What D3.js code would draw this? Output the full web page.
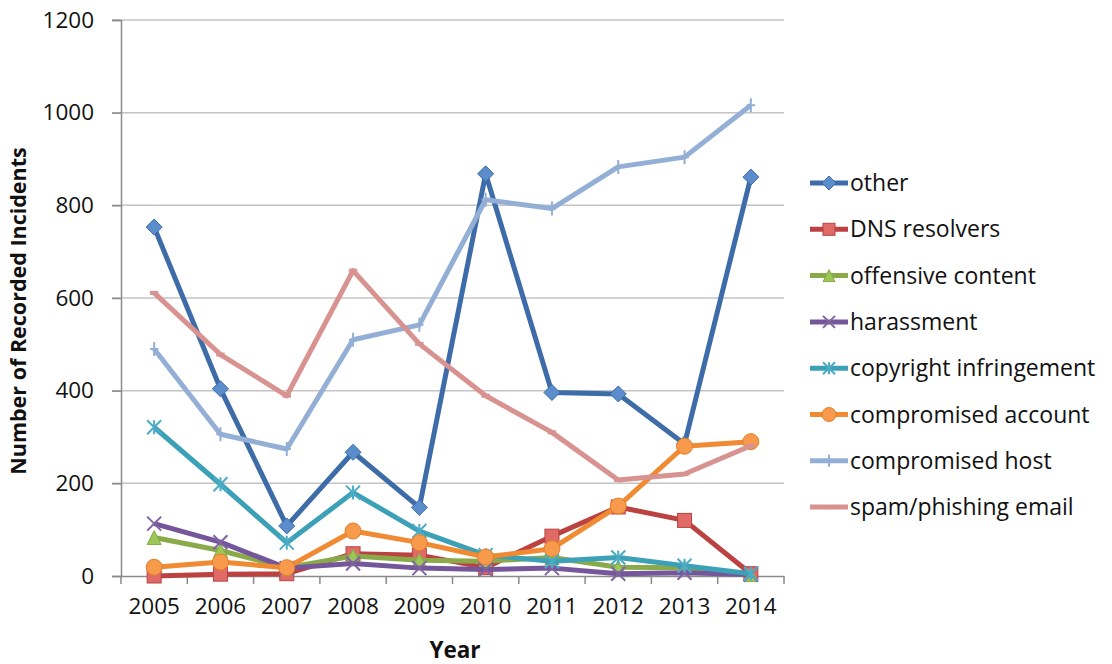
<!DOCTYPE html>
<html>
<head>
<meta charset="utf-8">
<script src="https://cdn.jsdelivr.net/npm/d3@7"></script>
<style>
  body { margin: 0; background: #fff; }
  svg text { font-family: "Open Sans", sans-serif; fill: #111; }
</style>
</head>
<body>
<svg id="chart" width="1112" height="664"></svg>
<script>
// data
const years = ["2005", "2006", "2007", "2008", "2009", "2010", "2011", "2012", "2013", "2014"];
const yTicks = [0, 200, 400, 600, 800, 1000, 1200];

const other = [753, 404, 108, 267, 148, 868, 396, 393, 285, 861];
const dnsResolvers = [0, 4, 5, 48, 45, 18, 86, 149, 120, 5];
const offensiveContent = [83, 55, 18, 43, 34, 32, 40, 19, 18, 3];
const harassment = [113, 73, 17, 27, 17, 14, 17, 5, 7, 3];
const copyrightInfringement = [321, 198, 72, 180, 97, 45, 32, 40, 22, 5];
const compromisedAccount = [19, 30, 18, 97, 72, 41, 59, 151, 280, 290];
const compromisedHost = [490, 306, 274, 510, 542, 812, 793, 883, 904, 1016];
const spamPhishing = [611, 478, 389, 659, 501, 389, 310, 207, 220, 281];

const series = [
  {name: "other", values: other, line: "#3d6ca8", fill: "#5b8ccc", marker: "diamond"},
  {name: "DNS resolvers", values: dnsResolvers, line: "#bb4240", fill: "#e06a66", marker: "square"},
  {name: "offensive content", values: offensiveContent, line: "#8aaa4a", fill: "#9cc657", marker: "triangle"},
  {name: "harassment", values: harassment, line: "#75569a", fill: "#8064a2", marker: "x"},
  {name: "copyright infringement", values: copyrightInfringement, line: "#3ca1b7", fill: "#4bacc6", marker: "star"},
  {name: "compromised account", values: compromisedAccount, line: "#f08a33", fill: "#f79a4c", marker: "circle"},
  {name: "compromised host", values: compromisedHost, line: "#93afd6", fill: "#93afd6", marker: "plus"},
  {name: "spam/phishing email", values: spamPhishing, line: "#d89290", fill: "#d89290", marker: "dash"}
];

const svg = d3.select("#chart");
const plot = {left: 121, right: 784, top: 20, bottom: 576};

const x = d3.scaleBand().domain(years).range([plot.left, plot.right]);
const y = d3.scaleLinear().domain([0, 1200]).range([plot.bottom, plot.top]);
const cx = (i) => x(years[i]) + x.bandwidth() / 2;

// gridlines
svg.append("g")
  .selectAll("line")
  .data(yTicks.filter(d => d > 0))
  .join("line")
  .attr("x1", plot.left - 9).attr("x2", plot.right)
  .attr("y1", d => y(d)).attr("y2", d => y(d))
  .attr("stroke", "#c4c4c4").attr("stroke-width", 1.5);

// y axis
const yAxis = svg.append("g")
  .attr("transform", `translate(${plot.left},0)`)
  .call(d3.axisLeft(y).tickValues(yTicks).tickFormat(d3.format("d")).tickSize(9).tickPadding(18));
yAxis.select(".domain").attr("stroke", "#8a8a8a").attr("stroke-width", 1.5);
yAxis.selectAll(".tick line").attr("stroke", "#8a8a8a").attr("stroke-width", 1.5);
yAxis.selectAll("text").attr("font-size", 22.5).attr("fill", "#111")
  .style("font-family", "'Open Sans', sans-serif");

// x axis
const xAxis = svg.append("g")
  .attr("transform", `translate(0,${plot.bottom})`)
  .call(d3.axisBottom(x).tickSize(0).tickPadding(22));
xAxis.select(".domain").attr("stroke", "#8a8a8a").attr("stroke-width", 1.5);
xAxis.selectAll("text").attr("font-size", 22.5).attr("fill", "#111")
  .style("font-family", "'Open Sans', sans-serif");
// ticks between categories
svg.append("g")
  .selectAll("line")
  .data(d3.range(years.length + 1))
  .join("line")
  .attr("x1", i => plot.left + i * x.bandwidth())
  .attr("x2", i => plot.left + i * x.bandwidth())
  .attr("y1", plot.bottom).attr("y2", plot.bottom + 8)
  .attr("stroke", "#8a8a8a").attr("stroke-width", 1.5);

// axis titles
svg.append("text")
  .attr("transform", `translate(26,${(plot.top + plot.bottom) / 2 + 13}) rotate(-90)`)
  .attr("text-anchor", "middle")
  .attr("font-size", 21.5).attr("font-weight", "bold")
  .text("Number of Recorded Incidents");
svg.append("text")
  .attr("x", 455).attr("y", 658)
  .attr("text-anchor", "middle")
  .attr("font-size", 22.5).attr("font-weight", "bold")
  .text("Year");

// marker shapes
function drawMarker(g, s, size) {
  const r = size / 2;
  switch (s.marker) {
    case "diamond":
      g.append("path").attr("d", `M0,${-r - 1}L${r + 1},0L0,${r + 1}L${-r - 1},0Z`)
        .attr("fill", s.fill).attr("stroke", s.line).attr("stroke-width", 1);
      break;
    case "square":
      g.append("rect").attr("x", -r).attr("y", -r).attr("width", size).attr("height", size)
        .attr("fill", s.fill).attr("stroke", s.line).attr("stroke-width", 1);
      break;
    case "triangle":
      g.append("path").attr("d", `M0,${-r}L${r},${r}L${-r},${r}Z`)
        .attr("fill", s.fill).attr("stroke", s.line).attr("stroke-width", 1);
      break;
    case "x":
      g.append("path").attr("d", `M${-r},${-r}L${r},${r}M${-r},${r}L${r},${-r}`)
        .attr("stroke", s.fill).attr("stroke-width", 2);
      break;
    case "star":
      g.append("path").attr("d", `M${-r},${-r}L${r},${r}M${-r},${r}L${r},${-r}M0,${-r}L0,${r}`)
        .attr("stroke", s.fill).attr("stroke-width", 2);
      break;
    case "circle":
      g.append("circle").attr("r", r + 1)
        .attr("fill", s.fill).attr("stroke", "#e57f27").attr("stroke-width", 1);
      break;
    case "plus":
      g.append("path").attr("d", `M0,${-r}L0,${r}M${-r * 0.6},0L${r * 0.6},0`)
        .attr("stroke", s.fill).attr("stroke-width", 2);
      break;
    case "dash":
      g.append("path").attr("d", `M${-r * 0.6},0L${r * 0.6},0`)
        .attr("stroke", s.fill).attr("stroke-width", 4);
      break;
  }
}

const line = d3.line()
  .x((d, i) => cx(i))
  .y(d => y(d));

// series
series.forEach(s => {
  const g = svg.append("g");
  g.append("path")
    .datum(s.values)
    .attr("d", line)
    .attr("fill", "none")
    .attr("stroke", s.line)
    .attr("stroke-width", 5)
    .attr("stroke-linejoin", "round");
  s.values.forEach((v, i) => {
    const m = g.append("g").attr("transform", `translate(${cx(i)},${y(v)})`);
    drawMarker(m, s, 14);
  });
});

// legend
const legend = svg.append("g").attr("transform", "translate(810,183)");
series.forEach((s, i) => {
  const g = legend.append("g").attr("transform", `translate(0,${i * 46.3})`);
  g.append("line").attr("x1", 0).attr("x2", 38).attr("y1", 0).attr("y2", 0)
    .attr("stroke", s.line).attr("stroke-width", 5);
  const m = g.append("g").attr("transform", "translate(19,0)");
  drawMarker(m, s, 12);
  g.append("text").attr("x", 40).attr("y", 8)
    .attr("font-size", 23)
    .text(s.name);
});
</script>
</body>
</html>
